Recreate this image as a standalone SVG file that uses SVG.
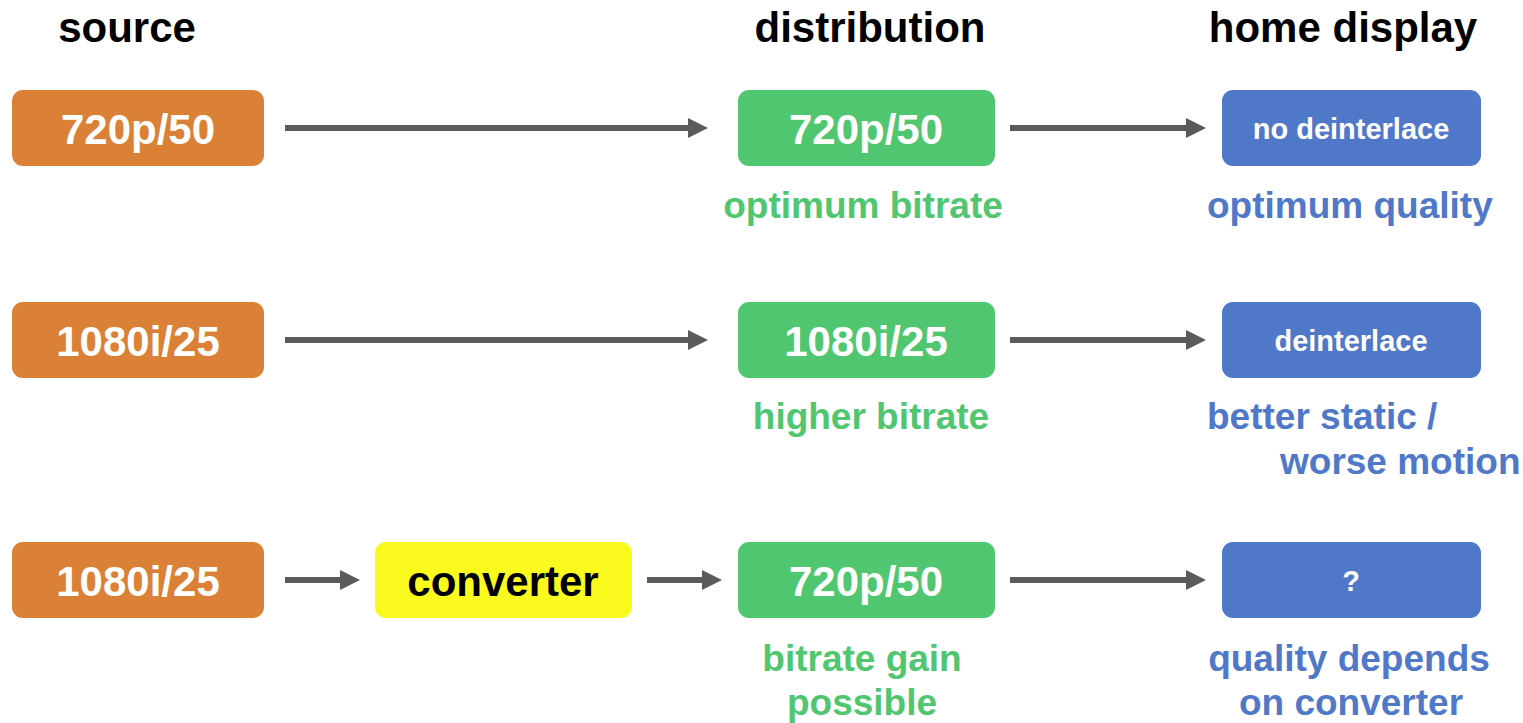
<svg xmlns="http://www.w3.org/2000/svg" width="1523" height="723" viewBox="0 0 1523 723">
  <defs>
    <marker id="arrowhead" markerUnits="userSpaceOnUse" markerWidth="20" markerHeight="20" refX="0" refY="10" orient="auto">
      <path d="M0,0 L20,10 L0,20 Z" fill="#5a5a5a"/>
    </marker>
    <style>
      text { font-family: "Liberation Sans", Arial, sans-serif; font-weight: bold; }
      .title { font-size: 42px; fill: #000; text-anchor: middle; }
      .big { font-size: 42px; fill: #fff; text-anchor: middle; }
      .small { font-size: 29px; fill: #fff; text-anchor: middle; }
      .src { fill: #da8137; }
      .dist { fill: #50c670; }
      .disp { fill: #5078c8; }
      .conv { fill: #fafa1e; }
      .lbl-g { font-size: 37px; fill: #50c670; }
      .lbl-b { font-size: 37px; fill: #5078c8; }
      .mid { text-anchor: middle; }
      .conn line { stroke: #5a5a5a; stroke-width: 6; marker-end: url(#arrowhead); }
    </style>
  </defs>
  <rect width="1523" height="723" fill="#fff"/>

  <!-- column headings -->
  <g id="headings">
    <text class="title" x="127" y="42">source</text>
    <text class="title" x="870" y="42">distribution</text>
    <text class="title" x="1343" y="42">home display</text>
  </g>

  <!-- row 1 -->
  <g id="src1"><rect class="src" x="12" y="90" width="252" height="76" rx="11"/><text class="big" x="138" y="144">720p/50</text></g>
  <g id="dist1"><rect class="dist" x="738" y="90" width="257" height="76" rx="11"/><text class="big" x="866" y="144">720p/50</text>
    <text class="lbl-g mid" x="863" y="218">optimum bitrate</text></g>
  <g id="disp1"><rect class="disp" x="1222" y="90" width="259" height="76" rx="11"/><text class="small" x="1351" y="139">no deinterlace</text>
    <text class="lbl-b" x="1207" y="218">optimum quality</text></g>

  <!-- row 2 -->
  <g id="src2"><rect class="src" x="12" y="302" width="252" height="76" rx="11"/><text class="big" x="138" y="356">1080i/25</text></g>
  <g id="dist2"><rect class="dist" x="738" y="302" width="257" height="76" rx="11"/><text class="big" x="866" y="356">1080i/25</text>
    <text class="lbl-g mid" x="871" y="429">higher bitrate</text></g>
  <g id="disp2"><rect class="disp" x="1222" y="302" width="259" height="76" rx="11"/><text class="small" x="1351" y="351">deinterlace</text>
    <text class="lbl-b" x="1207" y="429">better static /</text>
    <text class="lbl-b" x="1280" y="474">worse motion</text></g>

  <!-- row 3 -->
  <g id="src3"><rect class="src" x="12" y="542" width="252" height="76" rx="11"/><text class="big" x="138" y="596">1080i/25</text></g>
  <g id="converter"><rect class="conv" x="375" y="542" width="257" height="76" rx="11"/><text class="big" x="503" y="596" style="fill:#000">converter</text></g>
  <g id="dist3"><rect class="dist" x="738" y="542" width="257" height="76" rx="11"/><text class="big" x="866" y="596">720p/50</text>
    <text class="lbl-g mid" x="862" y="671">bitrate gain</text>
    <text class="lbl-g mid" x="862" y="715">possible</text></g>
  <g id="disp3"><rect class="disp" x="1222" y="542" width="259" height="76" rx="11"/><text class="small" x="1351" y="591">?</text>
    <text class="lbl-b mid" x="1349" y="671">quality depends</text>
    <text class="lbl-b mid" x="1351" y="715">on converter</text></g>

  <!-- connectors -->
  <g id="connectors" class="conn">
    <line x1="285" y1="128" x2="688" y2="128"/>
    <line x1="1010" y1="128" x2="1186" y2="128"/>
    <line x1="285" y1="340" x2="688" y2="340"/>
    <line x1="1010" y1="340" x2="1186" y2="340"/>
    <line x1="285" y1="580" x2="340" y2="580"/>
    <line x1="647" y1="580" x2="702" y2="580"/>
    <line x1="1010" y1="580" x2="1186" y2="580"/>
  </g>
</svg>
